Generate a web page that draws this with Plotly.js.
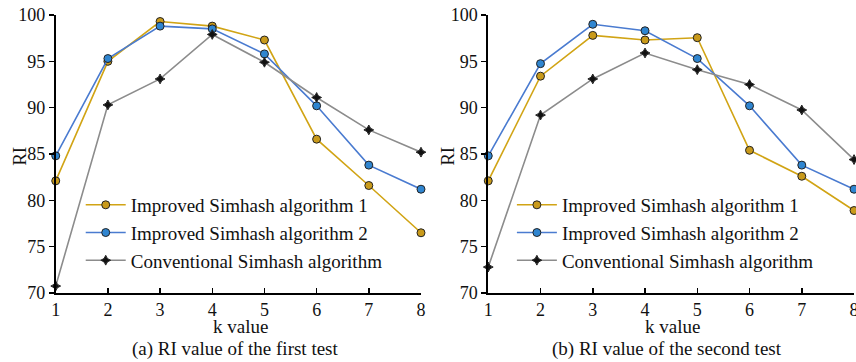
<!DOCTYPE html>
<html>
<head>
<meta charset="utf-8">
<script src="https://cdn.plot.ly/plotly-3.0.1.min.js"></script>
<style>html,body{margin:0;padding:0;background:#fff;}#chart{width:856px;height:362px;}</style>
</head>
<body>
<div id="chart"></div>
<script>
var kValues = [1, 2, 3, 4, 5, 6, 7, 8];
var yTicks = [70, 75, 80, 85, 90, 95, 100];
var seriesNames = ["Improved Simhash algorithm 1", "Improved Simhash algorithm 2", "Conventional Simhash algorithm"];
var test1Alg1 = [82.1, 95.0, 99.3, 98.8, 97.3, 86.6, 81.6, 76.5];
var test1Alg2 = [84.8, 95.3, 98.8, 98.5, 95.8, 90.2, 83.8, 81.2];
var test1Conv = [70.75, 90.3, 93.1, 97.9, 94.9, 91.1, 87.6, 85.2];
var test2Alg1 = [82.1, 93.4, 97.8, 97.3, 97.55, 85.4, 82.6, 78.9];
var test2Alg2 = [84.8, 94.75, 99.0, 98.3, 95.3, 90.2, 83.8, 81.2];
var test2Conv = [72.8, 89.2, 93.1, 95.9, 94.1, 92.5, 89.75, 84.4];
var captions = ["(a) RI value of the first test", "(b) RI value of the second test"];
var xTitle = "k value";
var yTitle = "RI";

var FONT = "Liberation Serif";
var gold = {line: "#D1A415", fill: "#C99A1A"};
var blue = {line: "#4A7BD0", fill: "#2F85D0"};
var gray = {line: "#8C8C8C", fill: "#111111"};

function mk(y, name, c, sym, sz, xa, ya, leg) {
  return {
    x: kValues, y: y, name: name, type: "scatter", mode: "lines+markers",
    xaxis: xa, yaxis: ya, legend: leg, cliponaxis: false,
    line: {color: c.line, width: 1.6},
    marker: {symbol: sym, size: sz, color: c.fill, line: {color: "#222", width: 1}}
  };
}

var data = [
  mk(test1Alg1, seriesNames[0], gold, "circle", 8, "x", "y", "legend"),
  mk(test1Alg2, seriesNames[1], blue, "circle", 8, "x", "y", "legend"),
  mk(test1Conv, seriesNames[2], gray, "star-diamond", 7, "x", "y", "legend"),
  mk(test2Alg1, seriesNames[0], gold, "circle", 8, "x2", "y2", "legend2"),
  mk(test2Alg2, seriesNames[1], blue, "circle", 8, "x2", "y2", "legend2"),
  mk(test2Conv, seriesNames[2], gray, "star-diamond", 7, "x2", "y2", "legend2")
];

function xax(dom, anchor) {
  return {
    domain: dom, anchor: anchor, range: [1, 8], tickvals: kValues, ticktext: kValues.map(String),
    showline: true, linecolor: "#000", linewidth: 1.8, ticks: "inside", ticklen: 5, tickwidth: 1.5,
    tickcolor: "#000", showgrid: false, zeroline: false, mirror: false, ticklabeloverflow: "allow",
    tickfont: {family: FONT, size: 18, color: "#111"}
  };
}
function yax(anchor) {
  return {
    domain: [0, 1], anchor: anchor, range: [70, 100], tickvals: yTicks, ticktext: yTicks.map(String),
    showline: true, linecolor: "#000", linewidth: 1.8, ticks: "outside", ticklen: 5, tickwidth: 1.5,
    tickcolor: "#000", showgrid: false, zeroline: false,
    tickfont: {family: FONT, size: 18, color: "#111"}
  };
}

function leg(x) {
  return {x: x, y: 0.385, xanchor: "left", yanchor: "top", bgcolor: "rgba(0,0,0,0)",
    font: {family: FONT, size: 19, color: "#111"}, tracegroupgap: 0, itemwidth: 40};
}

function ann(xref, x, y, text, angle) {
  return {xref: xref, yref: "paper", x: x, y: y, xanchor: "center", yanchor: "middle", showarrow: false,
    text: text, textangle: angle || 0, font: {family: FONT, size: 19, color: "#111"}};
}

var layout = {
  width: 856, height: 362,
  margin: {l: 0, r: 0, t: 15, b: 69},
  paper_bgcolor: "#fff", plot_bgcolor: "#fff",
  showlegend: true,
  xaxis: xax([0.0651, 0.4918], "y"),
  yaxis: yax("x"),
  xaxis2: xax([0.5704, 0.9977], "y2"),
  yaxis2: yax("x2"),
  legend: leg(0.0943),
  legend2: leg(0.598),
  annotations: [
    ann("x domain", 0.505, -0.122, xTitle),
    ann("x2 domain", 0.505, -0.122, xTitle),
    ann("x domain", 0.49, -0.2, captions[0]),
    ann("x2 domain", 0.49, -0.2, captions[1]),
    ann("paper", 0.0234, 0.49, yTitle, -90),
    ann("paper", 0.5234, 0.49, yTitle, -90)
  ]
};

Plotly.newPlot("chart", data, layout, {displayModeBar: false, staticPlot: true});
</script>
</body>
</html>
